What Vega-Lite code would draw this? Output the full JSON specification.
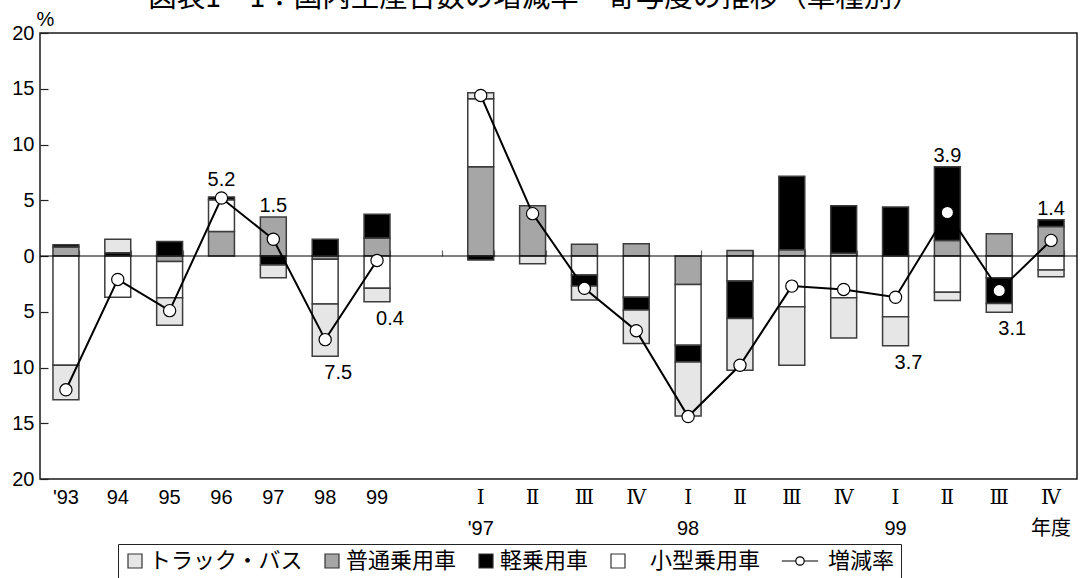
{
  "$schema": "https://vega.github.io/schema/vega-lite/v6.json",
  "width": 1037,
  "height": 446,
  "autosize": {"type": "none"},
  "padding": {"left": 40, "top": 33, "right": 3, "bottom": 99},
  "background": "white",
  "config": {
    "view": {"stroke": "#1a1a1a", "strokeWidth": 1.5},
    "font": "Liberation Sans"
  },
  "title": {
    "text": "図表1－1：国内生産台数の増減率・寄与度の推移（車種別）",
    "font": "Noto Sans CJK JP",
    "fontSize": 28.5,
    "fontWeight": "normal",
    "color": "black",
    "anchor": "middle",
    "frame": "group",
    "dx": -24,
    "dy": 28,
    "offset": 2,
    "baseline": "alphabetic"
  },
  "datasets": {
    "parts": [
      {"cat": "'93", "type": "普通乗用車", "v": 0.8},
      {"cat": "'93", "type": "軽乗用車", "v": 0.2},
      {"cat": "'93", "type": "小型乗用車", "v": -9.8},
      {"cat": "'93", "type": "トラック・バス", "v": -3.1},
      {"cat": "94", "type": "軽乗用車", "v": 0.3},
      {"cat": "94", "type": "トラック・バス", "v": 1.2},
      {"cat": "94", "type": "小型乗用車", "v": -3.7},
      {"cat": "95", "type": "軽乗用車", "v": 1.3},
      {"cat": "95", "type": "普通乗用車", "v": -0.5},
      {"cat": "95", "type": "小型乗用車", "v": -3.25},
      {"cat": "95", "type": "トラック・バス", "v": -2.45},
      {"cat": "96", "type": "普通乗用車", "v": 2.2},
      {"cat": "96", "type": "小型乗用車", "v": 2.85},
      {"cat": "96", "type": "軽乗用車", "v": 0.25},
      {"cat": "97", "type": "普通乗用車", "v": 3.5},
      {"cat": "97", "type": "軽乗用車", "v": -0.8},
      {"cat": "97", "type": "トラック・バス", "v": -1.15},
      {"cat": "98", "type": "軽乗用車", "v": 1.5},
      {"cat": "98", "type": "普通乗用車", "v": -0.3},
      {"cat": "98", "type": "小型乗用車", "v": -4.0},
      {"cat": "98", "type": "トラック・バス", "v": -4.7},
      {"cat": "99", "type": "軽乗用車", "v": 2.15},
      {"cat": "99", "type": "普通乗用車", "v": 1.6},
      {"cat": "99", "type": "小型乗用車", "v": -2.9},
      {"cat": "99", "type": "トラック・バス", "v": -1.2},
      {"cat": "97-Ⅰ", "type": "普通乗用車", "v": 8.0},
      {"cat": "97-Ⅰ", "type": "小型乗用車", "v": 6.1},
      {"cat": "97-Ⅰ", "type": "トラック・バス", "v": 0.55},
      {"cat": "97-Ⅰ", "type": "軽乗用車", "v": -0.35},
      {"cat": "97-Ⅱ", "type": "普通乗用車", "v": 4.5},
      {"cat": "97-Ⅱ", "type": "トラック・バス", "v": -0.7},
      {"cat": "97-Ⅲ", "type": "普通乗用車", "v": 1.05},
      {"cat": "97-Ⅲ", "type": "小型乗用車", "v": -1.7},
      {"cat": "97-Ⅲ", "type": "軽乗用車", "v": -1.0},
      {"cat": "97-Ⅲ", "type": "トラック・バス", "v": -1.25},
      {"cat": "97-Ⅳ", "type": "普通乗用車", "v": 1.1},
      {"cat": "97-Ⅳ", "type": "小型乗用車", "v": -3.7},
      {"cat": "97-Ⅳ", "type": "軽乗用車", "v": -1.15},
      {"cat": "97-Ⅳ", "type": "トラック・バス", "v": -3.0},
      {"cat": "98-Ⅰ", "type": "普通乗用車", "v": -2.55},
      {"cat": "98-Ⅰ", "type": "小型乗用車", "v": -5.45},
      {"cat": "98-Ⅰ", "type": "軽乗用車", "v": -1.5},
      {"cat": "98-Ⅰ", "type": "トラック・バス", "v": -4.85},
      {"cat": "98-Ⅱ", "type": "普通乗用車", "v": 0.5},
      {"cat": "98-Ⅱ", "type": "小型乗用車", "v": -2.25},
      {"cat": "98-Ⅱ", "type": "軽乗用車", "v": -3.35},
      {"cat": "98-Ⅱ", "type": "トラック・バス", "v": -4.65},
      {"cat": "98-Ⅲ", "type": "普通乗用車", "v": 0.55},
      {"cat": "98-Ⅲ", "type": "軽乗用車", "v": 6.6},
      {"cat": "98-Ⅲ", "type": "小型乗用車", "v": -4.55},
      {"cat": "98-Ⅲ", "type": "トラック・バス", "v": -5.25},
      {"cat": "98-Ⅳ", "type": "普通乗用車", "v": 0.25},
      {"cat": "98-Ⅳ", "type": "軽乗用車", "v": 4.25},
      {"cat": "98-Ⅳ", "type": "小型乗用車", "v": -3.75},
      {"cat": "98-Ⅳ", "type": "トラック・バス", "v": -3.6},
      {"cat": "99-Ⅰ", "type": "軽乗用車", "v": 4.4},
      {"cat": "99-Ⅰ", "type": "小型乗用車", "v": -5.45},
      {"cat": "99-Ⅰ", "type": "トラック・バス", "v": -2.6},
      {"cat": "99-Ⅱ", "type": "普通乗用車", "v": 1.4},
      {"cat": "99-Ⅱ", "type": "軽乗用車", "v": 6.6},
      {"cat": "99-Ⅱ", "type": "小型乗用車", "v": -3.25},
      {"cat": "99-Ⅱ", "type": "トラック・バス", "v": -0.75},
      {"cat": "99-Ⅲ", "type": "普通乗用車", "v": 2.0},
      {"cat": "99-Ⅲ", "type": "小型乗用車", "v": -1.95},
      {"cat": "99-Ⅲ", "type": "軽乗用車", "v": -2.3},
      {"cat": "99-Ⅲ", "type": "トラック・バス", "v": -0.8},
      {"cat": "99-Ⅳ", "type": "普通乗用車", "v": 2.65},
      {"cat": "99-Ⅳ", "type": "軽乗用車", "v": 0.6},
      {"cat": "99-Ⅳ", "type": "小型乗用車", "v": -1.25},
      {"cat": "99-Ⅳ", "type": "トラック・バス", "v": -0.6}
    ],
    "rates": [
      {"cat": "'93", "grp": "annual", "rate": -12.0},
      {"cat": "94", "grp": "annual", "rate": -2.1},
      {"cat": "95", "grp": "annual", "rate": -4.9},
      {"cat": "96", "grp": "annual", "rate": 5.2},
      {"cat": "97", "grp": "annual", "rate": 1.5},
      {"cat": "98", "grp": "annual", "rate": -7.5},
      {"cat": "99", "grp": "annual", "rate": -0.4},
      {"cat": "97-Ⅰ", "grp": "quarter", "rate": 14.4},
      {"cat": "97-Ⅱ", "grp": "quarter", "rate": 3.8},
      {"cat": "97-Ⅲ", "grp": "quarter", "rate": -2.9},
      {"cat": "97-Ⅳ", "grp": "quarter", "rate": -6.7},
      {"cat": "98-Ⅰ", "grp": "quarter", "rate": -14.4},
      {"cat": "98-Ⅱ", "grp": "quarter", "rate": -9.8},
      {"cat": "98-Ⅲ", "grp": "quarter", "rate": -2.7},
      {"cat": "98-Ⅳ", "grp": "quarter", "rate": -3.0},
      {"cat": "99-Ⅰ", "grp": "quarter", "rate": -3.7},
      {"cat": "99-Ⅱ", "grp": "quarter", "rate": 3.9},
      {"cat": "99-Ⅲ", "grp": "quarter", "rate": -3.1},
      {"cat": "99-Ⅳ", "grp": "quarter", "rate": 1.4}
    ]
  },
  "layer": [
    {
      "data": {"name": "parts"},
      "transform": [
        {"calculate": "indexof(['普通乗用車','小型乗用車','軽乗用車','トラック・バス'], datum.type)", "as": "stackOrder"}
      ],
      "mark": {"type": "bar", "stroke": "#3c3c3c", "strokeWidth": 1.5},
      "encoding": {
        "x": {
          "field": "cat", "type": "nominal",
          "scale": {
            "domain": ["'93", "94", "95", "96", "97", "98", "99", "gap", "97-Ⅰ", "97-Ⅱ", "97-Ⅲ", "97-Ⅳ", "98-Ⅰ", "98-Ⅱ", "98-Ⅲ", "98-Ⅳ", "99-Ⅰ", "99-Ⅱ", "99-Ⅲ", "99-Ⅳ"],
            "paddingInner": 0.5, "paddingOuter": 0.25
          },
          "axis": {
            "orient": "bottom", "title": null, "domain": false, "ticks": false, "grid": false,
            "labelAngle": 0, "labelPadding": 8, "labelFontSize": 20,
            "labelFont": "Liberation Sans, DejaVu Serif, Noto Sans CJK JP",
            "labelColor": "black", "labelLineHeight": 31, "labelBaseline": "top",
            "labelExpr": "datum.value == 'gap' ? '' : indexof(datum.value, '-') < 0 ? datum.value : [split(datum.value, '-')[1], datum.value == '97-Ⅰ' ? \"'97\" : datum.value == '98-Ⅰ' ? '98' : datum.value == '99-Ⅰ' ? '99' : datum.value == '99-Ⅳ' ? '年度' : '']"
          }
        },
        "y": {
          "aggregate": "sum", "field": "v", "type": "quantitative", "title": "%",
          "scale": {"domain": [-20, 20], "nice": false},
          "axis": {
            "values": [-20, -15, -10, -5, 0, 5, 10, 15, 20],
            "labelExpr": "abs(datum.value)",
            "domain": false, "grid": false,
            "tickSize": -8, "tickColor": "#222", "tickWidth": 1.2,
            "labelPadding": 14, "labelFlush": false,
            "labelFontSize": 20, "labelColor": "black",
            "titleAngle": 0, "titleX": -4, "titleY": -8,
            "titleAlign": "left", "titleBaseline": "alphabetic",
            "titleFontSize": 20, "titleFontWeight": "normal", "titleColor": "black",
            "titleFont": "Liberation Sans"
          }
        },
        "color": {
          "field": "type", "type": "nominal",
          "scale": {
            "domain": ["トラック・バス", "普通乗用車", "軽乗用車", "小型乗用車", "増減率"],
            "range": ["#e6e6e6", "#a6a6a6", "#000000", "#ffffff", "#ffffff"]
          },
          "legend": {
            "orient": "none", "legendX": 78, "legendY": 511,
            "direction": "horizontal", "title": null,
            "strokeColor": "#222", "padding": 6,
            "symbolSize": 196, "symbolType": "square",
            "symbolStrokeColor": "#333", "symbolStrokeWidth": 1.2,
            "labelFontSize": 22, "labelFont": "Noto Sans CJK JP", "labelColor": "black",
            "labelOffset": 3, "columnPadding": 18,
            "encode": {
              "symbols": {
                "update": {
                  "shape": [
                    {"test": "datum.value === '増減率'", "value": "M-2.6,0H-0.6M0.6,0H2.6M-0.6,0A0.6,0.6 0 1,1 0.6,0A0.6,0.6 0 1,1 -0.6,0Z"},
                    {"value": "square"}
                  ],
                  "stroke": [
                    {"test": "datum.value === '増減率'", "value": "#000000"},
                    {"value": "#333333"}
                  ]
                }
              },
              "labels": {
                "update": {
                  "dx": [
                    {"test": "datum.value === '増減率'", "value": 14},
                    {"test": "datum.value === '小型乗用車'", "value": 18},
                    {"value": 0}
                  ]
                }
              }
            }
          }
        },
        "order": {"field": "stackOrder", "type": "quantitative", "sort": "ascending"}
      }
    },
    {
      "data": {"values": [{}]},
      "mark": {"type": "rule", "color": "black", "strokeWidth": 1},
      "encoding": {
        "y": {"datum": 0, "type": "quantitative", "title": "%", "scale": {"domain": [-20, 20], "nice": false}}
      }
    },
    {
      "data": {"name": "rates"},
      "mark": {"type": "line", "strokeWidth": 2, "color": "black"},
      "encoding": {
        "x": {
          "field": "cat", "type": "nominal",
          "axis": {
            "orient": "top", "offset": -223, "labels": false, "domain": false,
            "ticks": true, "tickSize": 6, "tickColor": "#666", "tickWidth": 1.2,
            "tickBand": "extent", "title": null, "grid": false
          }
        },
        "y": {"field": "rate", "type": "quantitative", "title": "%"},
        "detail": {"field": "grp"}
      }
    },
    {
      "data": {"name": "rates"},
      "mark": {"type": "point", "filled": true, "fill": "white", "stroke": "black", "strokeWidth": 1.2, "size": 150, "opacity": 1},
      "encoding": {
        "x": {"field": "cat", "type": "nominal", "axis": null},
        "y": {"field": "rate", "type": "quantitative", "title": "%"}
      }
    },
    {
      "data": {"name": "parts"},
      "transform": [
        {"filter": {"field": "cat", "oneOf": ["96", "97", "98", "99", "99-Ⅰ", "99-Ⅱ", "99-Ⅲ", "99-Ⅳ"]}},
        {"calculate": "max(datum.v, 0)", "as": "up"},
        {"aggregate": [{"op": "sum", "field": "up", "as": "top"}], "groupby": ["cat"]},
        {"lookup": "cat", "from": {"data": {"name": "rates"}, "key": "cat", "fields": ["rate"]}},
        {"filter": "datum.rate > 0"},
        {"calculate": "max(datum.top, datum.rate + 0.6)", "as": "anchor"},
        {"calculate": "format(abs(datum.rate), '.1f')", "as": "txt"}
      ],
      "mark": {"type": "text", "baseline": "alphabetic", "dy": -5, "fontSize": 20, "font": "Liberation Sans", "color": "black"},
      "encoding": {
        "x": {"field": "cat", "type": "nominal", "axis": null},
        "y": {"field": "anchor", "type": "quantitative", "title": "%"},
        "text": {"field": "txt"}
      }
    },
    {
      "data": {"name": "parts"},
      "transform": [
        {"filter": {"field": "cat", "oneOf": ["96", "97", "98", "99", "99-Ⅰ", "99-Ⅱ", "99-Ⅲ", "99-Ⅳ"]}},
        {"calculate": "min(datum.v, 0)", "as": "down"},
        {"aggregate": [{"op": "sum", "field": "down", "as": "bottom"}], "groupby": ["cat"]},
        {"lookup": "cat", "from": {"data": {"name": "rates"}, "key": "cat", "fields": ["rate"]}},
        {"filter": "datum.rate < 0"},
        {"calculate": "format(abs(datum.rate), '.1f')", "as": "txt"}
      ],
      "mark": {"type": "text", "baseline": "alphabetic", "dy": 23, "dx": 13, "fontSize": 20, "font": "Liberation Sans", "color": "black"},
      "encoding": {
        "x": {"field": "cat", "type": "nominal", "axis": null},
        "y": {"field": "bottom", "type": "quantitative", "title": "%"},
        "text": {"field": "txt"}
      }
    }
  ],
  "resolve": {"axis": {"x": "independent"}}
}
